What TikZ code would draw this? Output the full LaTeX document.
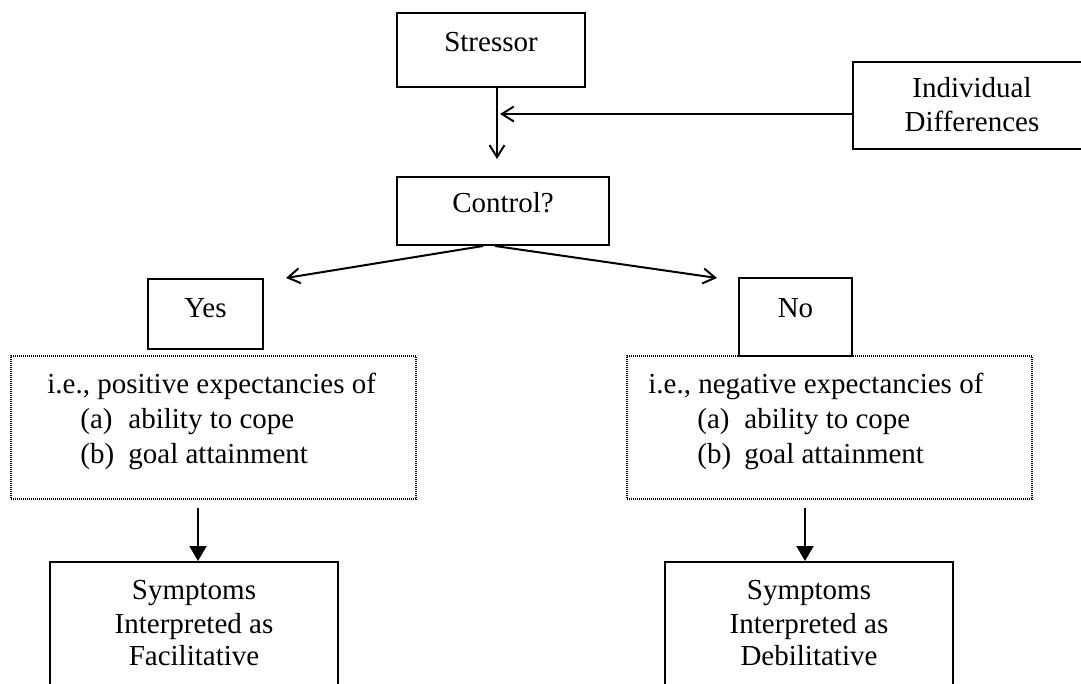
\documentclass[tikz,border=0pt]{standalone}
\usepackage{fontspec}
\setmainfont{Liberation Serif}
\usetikzlibrary{arrows.meta}
\tikzset{
  boxnode/.style={draw=black, line width=1pt, rectangle, inner sep=0pt},
  dotbox/.style={draw=black, line width=0.7pt, dash pattern=on 0.5pt off 0.5pt, rectangle, inner sep=0pt},
  txt/.style={inner sep=0pt, font=\fontsize{14.5pt}{17pt}\selectfont},
  barb/.style={line width=1pt, -{Straight Barb[length=6pt,width=7.5pt,line width=1pt]}},
  tri/.style={line width=1pt, -{Triangle[length=7.5pt,width=8.5pt]}}
}
\begin{document}
\begin{tikzpicture}[x=0.5pt,y=-0.5pt]
\useasboundingbox (0,0) rectangle (1081,684);
\clip (0,0) rectangle (1081,684);
% boxes
\node[boxnode, minimum width=94pt, minimum height=37pt] (stressor) at (491,50) {};
\node[boxnode, minimum width=106pt, minimum height=34pt] (control) at (503,211) {};
\node[boxnode, minimum width=119pt, minimum height=43.5pt] (ind) at (972,105.5) {};
\node[boxnode, minimum width=57.5pt, minimum height=35pt] (yes) at (205.5,314) {};
\node[boxnode, minimum width=56.5pt, minimum height=39pt] (no) at (795.5,317) {};
\node[dotbox, minimum width=202.5pt, minimum height=71.5pt] (dotL) at (213.5,427.5) {};
\node[dotbox, minimum width=202.5pt, minimum height=71.5pt] (dotR) at (829.5,427.5) {};
\node[boxnode, minimum width=144pt, minimum height=79pt] (symL) at (194,641) {};
\node[boxnode, minimum width=144pt, minimum height=79pt] (symR) at (809,641) {};
% texts
\node[txt, anchor=base] (stressorT) at (491,52) {Stressor};
\node[txt, anchor=base] (controlT) at (503,213) {Control?};
\node[txt, anchor=base] (indT1) at (972,98) {Individual};
\node[txt, anchor=base] (indT2) at (972,132) {Differences};
\node[txt, anchor=base] (yesT) at (205.5,317) {Yes};
\node[txt, anchor=base] (noT) at (795.5,317) {No};
\node[txt, anchor=base west] (dL1) at (47,393) {i.e., positive expectancies of};
\node[txt, anchor=base west] (dLa) at (80,428) {(a)};
\node[txt, anchor=base west] (dLa2) at (128,428) {ability to cope};
\node[txt, anchor=base west] (dLb) at (80,463) {(b)};
\node[txt, anchor=base west] (dLb2) at (128,463) {goal attainment};
\node[txt, anchor=base west] (dR1) at (648,393) {i.e., negative expectancies of};
\node[txt, anchor=base west] (dRa) at (697,428) {(a)};
\node[txt, anchor=base west] (dRa2) at (744,428) {ability to cope};
\node[txt, anchor=base west] (dRb) at (697,463) {(b)};
\node[txt, anchor=base west] (dRb2) at (744,463) {goal attainment};
\node[txt, anchor=base] (sL1) at (194,599) {Symptoms};
\node[txt, anchor=base] (sL2) at (194,633) {Interpreted as};
\node[txt, anchor=base] (sL3) at (194,665) {Facilitative};
\node[txt, anchor=base] (sR1) at (809,599) {Symptoms};
\node[txt, anchor=base] (sR2) at (809,633) {Interpreted as};
\node[txt, anchor=base] (sR3) at (809,665) {Debilitative};
% connector ends
\coordinate (ctlTip) at (497,159);
\coordinate (joinTip) at (500,114);
\coordinate (yesTip) at (286,278);
\coordinate (noTip) at (717,278);
\coordinate (aL) at (198,508);
\coordinate (aR) at (805,508);
% connectors
\draw[barb] ([xshift=3pt]stressor.south) -- (ctlTip);
\draw[barb] ([yshift=-4.25pt]ind.west) -- (joinTip);
\draw[barb] ([xshift=-10pt]control.south) -- (yesTip);
\draw[barb] ([xshift=-4pt]control.south) -- (noTip);
\draw[tri] (aL) -- (aL |- symL.north);
\draw[tri] (aR) -- (aR |- symR.north);
\end{tikzpicture}
\end{document}
